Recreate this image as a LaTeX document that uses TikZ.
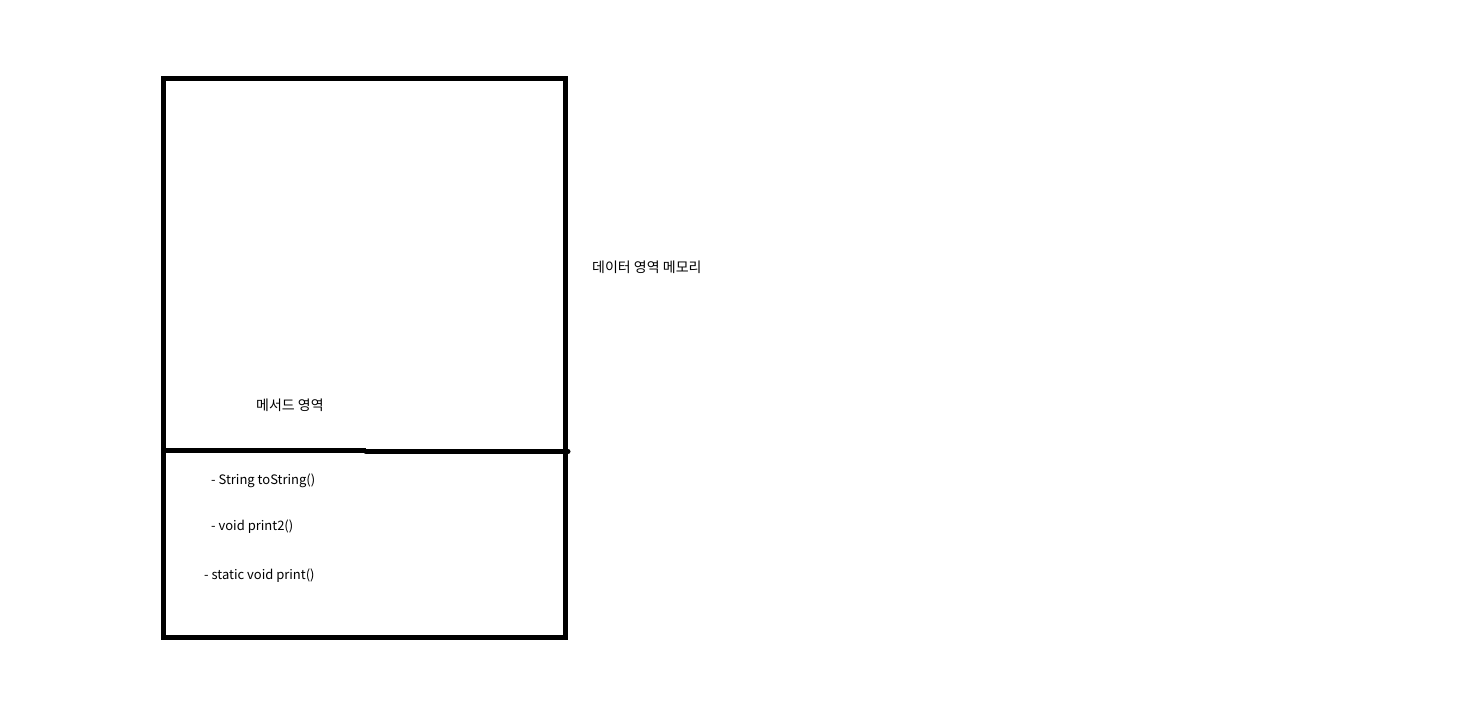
\documentclass[tikz,border=0pt]{standalone}
\usepackage{fontspec}
\setmainfont{Noto Sans CJK KR}
\begin{document}
\begin{tikzpicture}[x=1pt,y=-1pt,
  lbl/.style={anchor=base west,inner sep=0pt,font=\fontsize{13}{15}\selectfont},
  klbl/.style={anchor=base west,inner sep=0pt,font=\fontsize{14}{16}\selectfont},
  heavy/.style={line width=5pt}]
\useasboundingbox (0,0) rectangle (1481,706);
\coordinate (tl) at (163.5,78.5);
\coordinate (br) at (565,637.5);
\draw[heavy] (tl) rectangle (br);
\coordinate (ml) at (163.5,450);
\coordinate (mm) at (366,450);
\coordinate (mm2) at (366,451.5);
\coordinate (mr) at (568,451.5);
\draw[heavy] (ml) -- (mm);
\draw[heavy,line cap=round] (mm2) -- (mr);
\node[klbl] (method) at (256,410.5) {메서드 영역};
\node[lbl] (m1) at (211,484) {- String toString()};
\node[lbl] (m2) at (211,530) {- void print2()};
\node[lbl] (m3) at (204,579) {- static void print()};
\node[klbl] (data) at (592,272) {데이터 영역 메모리};
\end{tikzpicture}
\end{document}
